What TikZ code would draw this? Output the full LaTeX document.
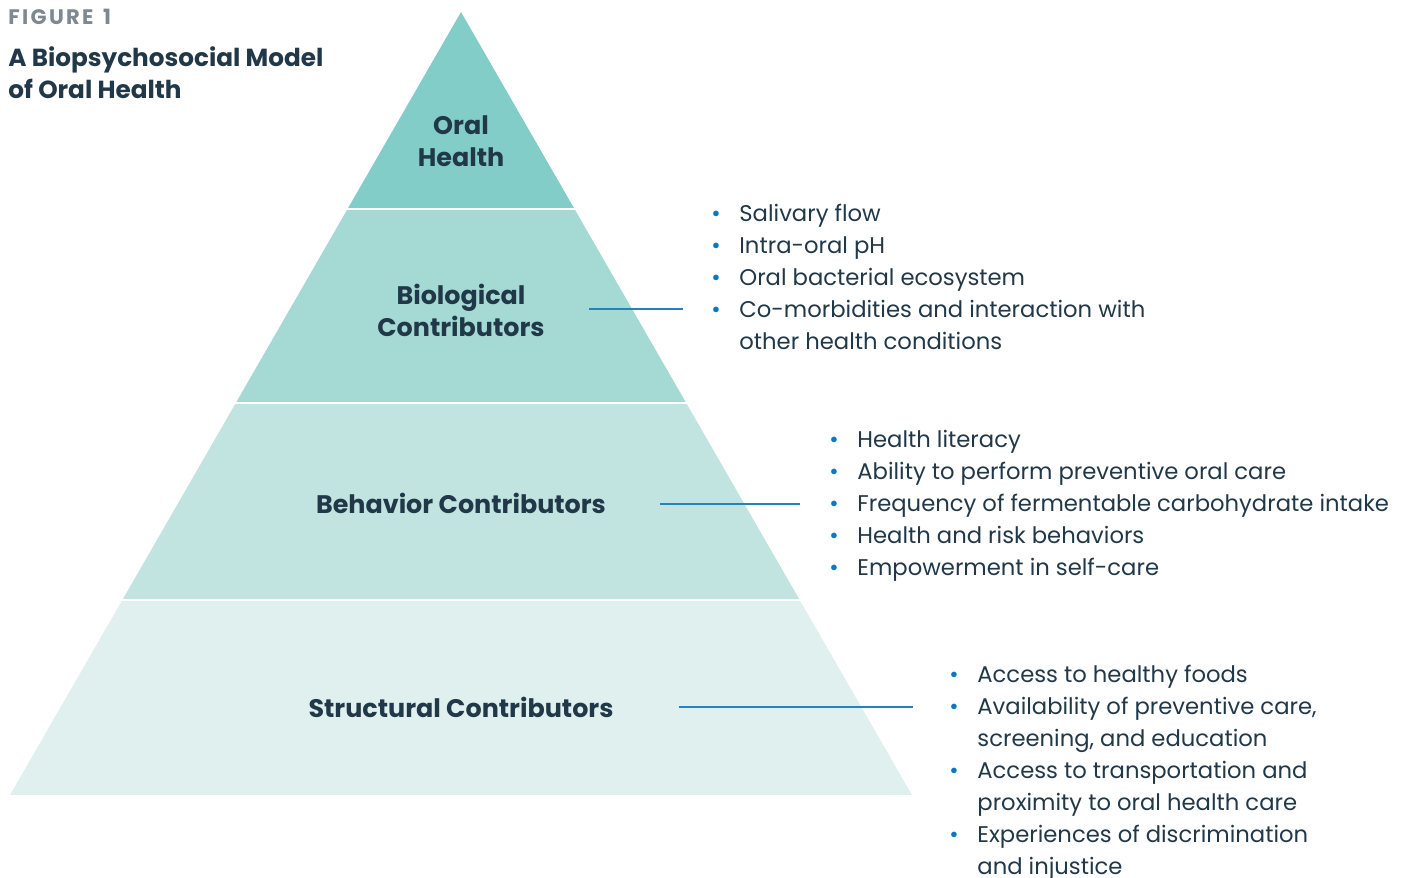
\documentclass[tikz,border=0pt]{standalone}
\usepackage{fontspec}
\setmainfont{Poppins}
\usepackage{xcolor}
\usepackage{tikz}

\definecolor{tierA}{HTML}{82CDC7}
\definecolor{tierB}{HTML}{A4D9D4}
\definecolor{tierC}{HTML}{C2E4E0}
\definecolor{tierD}{HTML}{DFF0EE}
\definecolor{ink}{HTML}{213849}
\definecolor{figgray}{HTML}{7E8890}
\definecolor{bulletblue}{HTML}{0A78BE}
\definecolor{linkblue}{HTML}{2283BD}

\newcommand{\bul}{\makebox[14pt][l]{\textcolor{bulletblue}{\textbullet}}}
\newcommand{\cont}{\makebox[14pt][l]{}}

\tikzset{
    tier/.style={font=\fontsize{12.7}{16}\selectfont\bfseries, text=ink, align=center, inner sep=0},
    items/.style={font=\fontsize{11.35}{16}\selectfont, text=ink, anchor=base west, inner sep=0},
    link/.style={draw=linkblue, line width=0.75pt}
}

\begin{document}
\begin{tikzpicture}[x=0.5pt, y=-0.5pt]
    \useasboundingbox (0, 0) rectangle (1416, 877);

    % pyramid bands
    \begin{scope}
        \clip (461, 12) -- (912, 795) -- (10, 795) -- cycle;
        \fill[tierA] (0, 0) rectangle (1416, 207.5);
        \fill[tierB] (0, 210) rectangle (1416, 401.5);
        \fill[tierC] (0, 404) rectangle (1416, 598.5);
        \fill[tierD] (0, 601) rectangle (1416, 795);
    \end{scope}

    \node[anchor=base west, inner sep=0, text=figgray, font=\fontsize{10.5}{12}\selectfont\bfseries\addfontfeatures{LetterSpace=11}] (fig) at (8, 25) {FIGURE\hspace{1.5pt} 1};
    \node[anchor=base west, inner sep=0, text=ink, align=left, font=\fontsize{12.35}{16}\selectfont\bfseries] (title) at (8, 99) {A Biopsychosocial Model\\of Oral Health};

    \node[tier] (oral) at (461, 141) {Oral\\Health};
    \node[tier] (bio) at (461, 310) {Biological\\Contributors};
    \node[tier] (beh) at (461, 503) {Behavior Contributors};
    \node[tier] (str) at (461, 707) {Structural Contributors};

    \node[items] (bioList) at (711, 221) {\begin{tabular}[t]{@{}l@{}}
        \bul Salivary flow\\
        \bul Intra-oral pH\\
        \bul Oral bacterial ecosystem\\
        \bul Co-morbidities and interaction with\\
        \cont other health conditions
    \end{tabular}};
    \node[items] (behList) at (829, 447) {\begin{tabular}[t]{@{}l@{}}
        \bul Health literacy\\
        \bul Ability to perform preventive oral care\\
        \bul Frequency of fermentable carbohydrate intake\\
        \bul Health and risk behaviors\\
        \bul Empowerment in self-care
    \end{tabular}};
    \node[items] (strList) at (949, 682) {\begin{tabular}[t]{@{}l@{}}
        \bul Access to healthy foods\\
        \bul Availability of preventive care,\\
        \cont screening, and education\\
        \bul Access to transportation and\\
        \cont proximity to oral health care\\
        \bul Experiences of discrimination\\
        \cont and injustice
    \end{tabular}};

    \coordinate (bioA) at (589, 309);
    \coordinate (bioB) at (683, 309);
    \coordinate (behA) at (660, 504);
    \coordinate (behB) at (800, 504);
    \coordinate (strA) at (679, 707);
    \coordinate (strB) at (913, 707);
    \draw[link] (bioA) -- (bioB);
    \draw[link] (behA) -- (behB);
    \draw[link] (strA) -- (strB);
\end{tikzpicture}
\end{document}
